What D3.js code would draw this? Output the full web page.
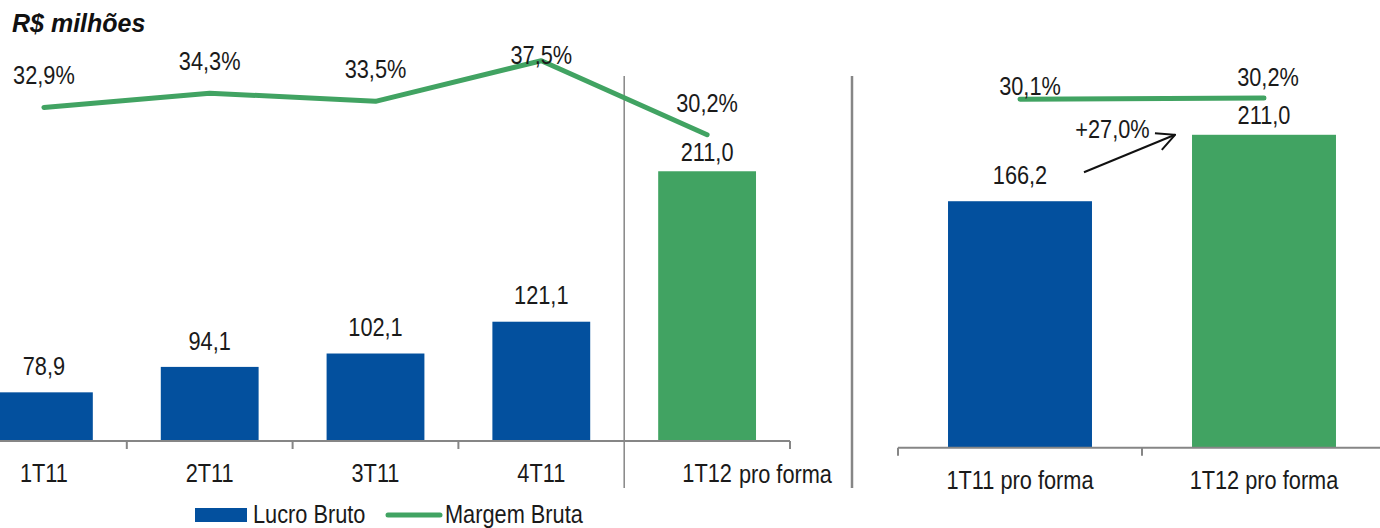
<!DOCTYPE html>
<html>
<head>
<meta charset="utf-8">
<script src="https://cdn.jsdelivr.net/npm/d3@7"></script>
<style>
  html, body { margin: 0; padding: 0; background: #fff; }
  svg { display: block; }
  .lbl { font-family: "Liberation Sans", Arial, sans-serif; font-size: 25px; fill: #1a1a1a; }
</style>
</head>
<body>
<svg id="chart" width="1380" height="528"></svg>
<script>
// Quarterly gross profit (R$ millions) and gross margin (%)
const categories = ["1T11", "2T11", "3T11", "4T11", "1T12"];
const categorySuffix = ["", "", "", "", "pro forma"];
const lucroBruto = [78.9, 94.1, 102.1, 121.1, 211.0];
const margemBruta = [32.9, 34.3, 33.5, 37.5, 30.2];

// Pro forma comparison
const pfCategories = ["1T11 pro forma", "1T12 pro forma"];
const pfLucroBruto = [166.2, 211.0];
const pfMargemBruta = [30.1, 30.2];

const legendLabels = ["Lucro Bruto", "Margem Bruta"];
const unitTitle = "R$ milhões";

const BLUE = "#03509e";
const GREEN = "#41a362";
const GRAY = "#868686";
const NARROW = 0.87; // condensed glyph width factor

const locale = d3.formatLocale({ decimal: ",", thousands: ".", grouping: [3], currency: ["R$", ""] });
const fmtVal = locale.format(".1f");
const fmtPct = v => locale.format(".1f")(v) + "%";

const svg = d3.select("#chart");

// ---------- left panel: quarterly ----------
const bandL = d3.scaleBand().domain(categories).range([-39, 790]).paddingInner(0.41).paddingOuter(0.205);
const slotL = d3.scaleBand().domain(categories).range([-39, 790]).padding(0);
const yL = d3.scaleLinear().domain([50, 250]).range([440.7, 106]);
const mL = d3.scaleLinear().domain([0, 40]).range([441, 35.4]);
const isProForma = (d, i) => i === categories.length - 1;

const left = svg.append("g");

left.selectAll("rect.bar").data(lucroBruto).join("rect")
  .attr("class", "bar")
  .attr("x", (d, i) => bandL(categories[i]))
  .attr("width", bandL.bandwidth())
  .attr("y", d => yL(d))
  .attr("height", d => yL.range()[0] - yL(d))
  .attr("fill", (d, i) => isProForma(d, i) ? GREEN : BLUE);

// axis line with tick marks at category boundaries
const axisL = left.append("g").attr("stroke", GRAY).attr("stroke-width", 2);
axisL.append("line").attr("x1", 0).attr("x2", slotL.range()[1]).attr("y1", 441).attr("y2", 441);
categories.forEach((c, i) => {
  const bx = slotL(c) + slotL.bandwidth();
  if (i === categories.length - 2) return; // separator line drawn below
  axisL.append("line").attr("x1", bx).attr("x2", bx).attr("y1", 441).attr("y2", 449);
});
// separator before the pro forma quarter
const sepX = slotL(categories[categories.length - 1]);
left.append("line").attr("x1", sepX).attr("x2", sepX).attr("y1", 76).attr("y2", 488)
  .attr("stroke", GRAY).attr("stroke-width", 1.5);

// category labels
categories.forEach((c, i) => {
  const cx = slotL(c) + slotL.bandwidth() / 2;
  const t = left.append("text").attr("class", "lbl").attr("x", cx).attr("y", 482).attr("text-anchor", "middle").text(c);
  if (categorySuffix[i]) {
    const w = t.node().getComputedTextLength() * NARROW;
    left.append("text").attr("class", "lbl").attr("x", cx + w / 2 + 7).attr("y", 483)
      .style("font-size", "25px").text(categorySuffix[i]);
  }
});

// margin line
const lineL = d3.line().x((d, i) => slotL(categories[i]) + slotL.bandwidth() / 2).y(d => mL(d));
left.append("path").datum(margemBruta).attr("d", lineL)
  .attr("fill", "none").attr("stroke", GREEN).attr("stroke-width", 5)
  .attr("stroke-linecap", "round").attr("stroke-linejoin", "round");

left.selectAll("text.pct").data(margemBruta).join("text")
  .attr("class", "lbl pct")
  .attr("x", (d, i) => slotL(categories[i]) + slotL.bandwidth() / 2)
  .attr("y", d => Math.max(mL(d) - 32, 55))
  .attr("dy", "0.35em").attr("text-anchor", "middle")
  .text(fmtPct);

left.selectAll("text.val").data(lucroBruto).join("text")
  .attr("class", "lbl val")
  .attr("x", (d, i) => slotL(categories[i]) + slotL.bandwidth() / 2)
  .attr("y", (d, i) => Math.max(yL(d) - 26, mL(margemBruta[i]) + 17))
  .attr("dy", "0.35em").attr("text-anchor", "middle")
  .text(fmtVal);

// panel divider
svg.append("line").attr("x1", 852).attr("x2", 852).attr("y1", 76).attr("y2", 488)
  .attr("stroke", GRAY).attr("stroke-width", 2.5);

// ---------- right panel: pro forma comparison ----------
const bandR = d3.scaleBand().domain(pfCategories).range([898, 1386]).paddingInner(0.41).paddingOuter(0.205);
const slotR = d3.scaleBand().domain(pfCategories).range([898, 1386]).padding(0);
const yR = d3.scaleLinear().domain([0, 250]).range([447.7, 76.95]);
const mR = d3.scaleLinear().domain([0, 40]).range([447.7, -15.5]);

const right = svg.append("g");

right.selectAll("rect.bar").data(pfLucroBruto).join("rect")
  .attr("class", "bar")
  .attr("x", (d, i) => bandR(pfCategories[i]))
  .attr("width", bandR.bandwidth())
  .attr("y", d => yR(d))
  .attr("height", d => yR(0) - yR(d))
  .attr("fill", (d, i) => i === 0 ? BLUE : GREEN);

const axisR = right.append("g").attr("stroke", GRAY).attr("stroke-width", 2);
axisR.append("line").attr("x1", slotR.range()[0]).attr("x2", 1380).attr("y1", yR(0)).attr("y2", yR(0));
pfCategories.forEach(c => {
  axisR.append("line").attr("x1", slotR(c)).attr("x2", slotR(c)).attr("y1", yR(0)).attr("y2", yR(0) + 8);
});

right.selectAll("text.cat").data(pfCategories).join("text")
  .attr("class", "lbl cat")
  .attr("x", d => slotR(d) + slotR.bandwidth() / 2)
  .attr("y", 489).attr("text-anchor", "middle")
  .text(d => d);

const lineR = d3.line().x((d, i) => slotR(pfCategories[i]) + slotR.bandwidth() / 2).y(d => mR(d));
right.append("path").datum(pfMargemBruta).attr("d", lineR)
  .attr("fill", "none").attr("stroke", GREEN).attr("stroke-width", 5)
  .attr("stroke-linecap", "round");

right.selectAll("text.pct").data(pfMargemBruta).join("text")
  .attr("class", "lbl pct")
  .attr("x", (d, i) => slotR(pfCategories[i]) + slotR.bandwidth() / 2 + (i === 0 ? 10 : 4))
  .attr("y", (d, i) => mR(d) - (i === 0 ? 13 : 21))
  .attr("dy", "0.35em").attr("text-anchor", "middle")
  .text(fmtPct);

right.selectAll("text.val").data(pfLucroBruto).join("text")
  .attr("class", "lbl val")
  .attr("x", (d, i) => slotR(pfCategories[i]) + slotR.bandwidth() / 2)
  .attr("y", (d, i) => Math.max(yR(d) - 26, mR(pfMargemBruta[i]) + 17))
  .attr("dy", "0.35em").attr("text-anchor", "middle")
  .text(fmtVal);

// growth arrow between the two pro forma bars
svg.append("defs").append("marker")
  .attr("id", "openArrow").attr("markerUnits", "userSpaceOnUse")
  .attr("viewBox", "0 0 20 20").attr("refX", 19).attr("refY", 10)
  .attr("markerWidth", 20).attr("markerHeight", 20).attr("orient", "auto")
  .append("path").attr("d", "M1,1 L19,10 L1,19")
  .attr("fill", "none").attr("stroke", "#111").attr("stroke-width", 2);

const ax1 = bandR(pfCategories[0]) + bandR.bandwidth() - 8;
const ay1 = yR(pfLucroBruto[0]) - 29;
const ax2 = bandR(pfCategories[1]) - 17;
const ay2 = yR(pfLucroBruto[1]);
right.append("line").attr("x1", ax1).attr("y1", ay1).attr("x2", ax2).attr("y2", ay2)
  .attr("stroke", "#111").attr("stroke-width", 2).attr("marker-end", "url(#openArrow)");

const growth = (pfLucroBruto[1] / pfLucroBruto[0] - 1) * 100;
right.append("text").attr("class", "lbl")
  .attr("x", (ax1 + ax2) / 2 - 17).attr("y", (ay1 + ay2) / 2 - 24)
  .attr("dy", "0.35em").attr("text-anchor", "middle")
  .text("+" + fmtPct(growth));

// ---------- title ----------
svg.append("text").attr("x", 12).attr("y", 32)
  .style("font-family", "'Liberation Sans', Arial, sans-serif")
  .style("font-size", "25px").style("font-weight", "bold").style("font-style", "italic")
  .attr("fill", "#111").text(unitTitle);

// ---------- legend ----------
const legend = svg.append("g");
legend.append("rect").attr("x", 195).attr("y", 508).attr("width", 52).attr("height", 14).attr("fill", BLUE);
legend.append("text").attr("class", "lbl").attr("x", 253).attr("y", 523).text(legendLabels[0]);
legend.append("line").attr("x1", 388).attr("x2", 440).attr("y1", 515).attr("y2", 515)
  .attr("stroke", GREEN).attr("stroke-width", 5).attr("stroke-linecap", "round");
legend.append("text").attr("class", "lbl").attr("x", 445).attr("y", 523).text(legendLabels[1]);

// condense all label glyphs horizontally (narrow face)
svg.selectAll("text.lbl").each(function () {
  const w = this.getComputedTextLength();
  d3.select(this).attr("textLength", w * NARROW).attr("lengthAdjust", "spacingAndGlyphs");
});
</script>
</body>
</html>
